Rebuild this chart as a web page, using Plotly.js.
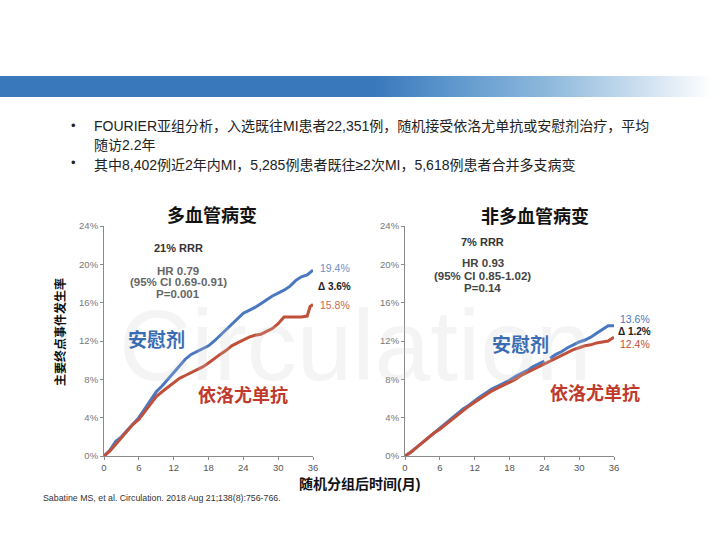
<!DOCTYPE html>
<html><head><meta charset="utf-8">
<script src="https://cdn.plot.ly/plotly-3.0.1.min.js"></script>
<style>
body{margin:0;background:#fff;}
#band{position:absolute;left:0;top:76px;width:720px;height:21px;
background:linear-gradient(to right,#3a78bc 0%,#3a78bc 52%,#5b95cc 62%,#8db8dc 76%,#c7dcee 88%,#ffffff 99%);}
#plot{position:absolute;left:0;top:0;width:720px;height:540px;}
</style></head>
<body><div id="band"></div><div id="plot"></div>
<script>
// Multivessel disease (left)
const monthsL = [0,1,2,3,4,5,6,7,8,9,10,11,12,13,14,15,16,17,18,19,20,21,22,23,24,25,26,27,28,29,30,31,32,33,34,35,36];
const placeboL = [0,0.6,1.5,2.0,2.7,3.3,4.0,4.9,5.8,6.7,7.3,8.0,8.8,9.5,10.1,10.6,10.9,11.2,11.5,12.0,12.6,13.1,13.7,14.3,14.9,15.2,15.5,15.9,16.3,16.7,17.0,17.3,17.7,18.3,18.7,18.9,19.4];
const monthsLe = [0,1,2,3,4,5,6,7,8,9,10,11,12,13,14,15,16,17,18,19,20,21,22,23,24,25,26,27,28,29,30,31,32,33,34,35,35.5,36];
const evoL = [0,0.5,1.2,1.9,2.6,3.3,3.8,4.6,5.3,6.2,6.7,7.2,7.7,8.1,8.4,8.7,9.0,9.3,9.7,10.2,10.6,11.0,11.5,11.8,12.1,12.4,12.6,12.7,13.0,13.3,13.8,14.5,14.5,14.5,14.5,14.6,15.6,15.8];
// No multivessel disease (right)
const monthsRp = [0,1,2,3,4,5,6,7,8,9,10,11,12,13,14,15,16,17,18,19,20,21,22,23,24,24.7,25,26,27,28,29,30,31,32,33,34,35,36];
const placeboR = [0,0.4,0.9,1.4,1.9,2.4,2.9,3.4,3.9,4.4,4.9,5.3,5.8,6.2,6.6,7.0,7.3,7.6,7.9,8.3,8.6,8.9,9.3,9.6,9.9,null,10.2,10.6,10.9,11.3,11.6,11.9,12.1,12.4,12.8,13.2,13.6,13.6];
const monthsRe = [0,1,2,3,4,5,6,7,8,9,10,11,12,13,14,15,16,17,18,19,20,21,22,23,24,25,26,27,28,29,30,31,32,33,34,35,35.5,36];
const evoR = [0,0.4,0.9,1.4,1.9,2.4,2.8,3.3,3.8,4.3,4.8,5.2,5.6,6.0,6.4,6.8,7.1,7.4,7.7,8.0,8.4,8.7,9.0,9.3,9.6,9.9,10.2,10.5,10.8,11.1,11.3,11.5,11.6,11.8,11.9,12.0,12.2,12.4];

const xTicks = [0,6,12,18,24,30,36];
const yTicks = [0,4,8,12,16,20,24];
const yTickText = ['0%','4%','8%','12%','16%','20%','24%'];

const BLUE = '#4a78c0', RED = '#c0503a';
const SANS = 'Liberation Sans, Arial, Noto Sans CJK SC, sans-serif';

const traces = [
 {x:monthsL,y:placeboL,xaxis:'x',yaxis:'y',mode:'lines',line:{color:BLUE,width:3},hoverinfo:'skip'},
 {x:monthsLe,y:evoL,xaxis:'x',yaxis:'y',mode:'lines',line:{color:RED,width:3},hoverinfo:'skip'},
 {x:monthsRp,y:placeboR,xaxis:'x2',yaxis:'y2',mode:'lines',connectgaps:false,line:{color:BLUE,width:3},hoverinfo:'skip'},
 {x:monthsRe,y:evoR,xaxis:'x2',yaxis:'y2',mode:'lines',line:{color:RED,width:3},hoverinfo:'skip'}
];

const W=720,H=540;
const px = v=>v/W, py = v=>1-v/H;
function ann(text,x,y,size,color,opts){
  return Object.assign({text:text,xref:'paper',yref:'paper',x:px(x),y:py(y),showarrow:false,
    xanchor:'center',yanchor:'middle',font:{family:SANS,size:size,color:color}},opts||{});
}
const axX = d=>({domain:d,range:[0,36],tickvals:xTicks,ticktext:xTicks.map(String),showgrid:false,zeroline:false,
  showline:true,linecolor:'#8a8a8a',linewidth:1,ticks:'outside',ticklen:3,tickcolor:'#8a8a8a',
  tickfont:{family:SANS,size:9.5,color:'#555'},fixedrange:true});
const axY = (d,anchor)=>({domain:d,range:[0,24],tickvals:yTicks,ticktext:yTickText,showgrid:false,zeroline:false,
  showline:true,linecolor:'#8a8a8a',linewidth:1,ticks:'outside',ticklen:3,tickcolor:'#8a8a8a',anchor:anchor,
  tickfont:{family:SANS,size:9.5,color:'#777'},fixedrange:true});

const yd=[1-456/H,1-226/H];
const layout = {
  width:W,height:H,margin:{l:0,r:0,t:0,b:0},showlegend:false,
  paper_bgcolor:'rgba(0,0,0,0)',plot_bgcolor:'rgba(0,0,0,0)',
  xaxis:Object.assign(axX([104/W,313/W]),{anchor:'y'}),
  yaxis:axY(yd,'x'),
  xaxis2:Object.assign(axX([405/W,614/W]),{anchor:'y2'}),
  yaxis2:axY(yd,'x2'),
  annotations:[
    ann('Circulation',355,345,100,'rgba(200,200,200,0.2)'),
    ann('•',73,125,13,'#222'),
    ann('FOURIER亚组分析，入选既往MI患者22,351例，随机接受依洛尤单抗或安慰剂治疗，平均',92,126,14,'#222',{xanchor:'left'}),
    ann('随访2.2年',92,145,14,'#222',{xanchor:'left'}),
    ann('•',73,163,13,'#222'),
    ann('其中8,402例近2年内MI，5,285例患者既往≥2次MI，5,618例患者合并多支病变',92,165,14,'#222',{xanchor:'left'}),
    ann('<b>多血管病变</b>',212,215,18,'#111'),
    ann('<b>非多血管病变</b>',535,216,18,'#111'),
    ann('<b>21% RRR</b>',178,248,11,'#333'),
    ann('<b>HR 0.79</b>',178,271,11.5,'#666'),
    ann('<b>(95% CI 0.69-0.91)</b>',178,282,11.5,'#666'),
    ann('<b>P=0.001</b>',178,294,11.5,'#666'),
    ann('<b>7% RRR</b>',483,242,11,'#333'),
    ann('<b>HR 0.93</b>',483,263,11.5,'#444'),
    ann('<b>(95% CI 0.85-1.02)</b>',483,276,11.5,'#444'),
    ann('<b>P=0.14</b>',483,288,11.5,'#444'),
    ann('19.4%',318,268,10.5,'#6b8fc9',{xanchor:'left'}),
    ann('<b>Δ 3.6%</b>',316,286,10,'#222',{xanchor:'left'}),
    ann('15.8%',318,305,10.5,'#c86a50',{xanchor:'left'}),
    ann('13.6%',618,319,10.5,'#4a78c0',{xanchor:'left'}),
    ann('<b>Δ 1.2%</b>',616,331,10,'#222',{xanchor:'left'}),
    ann('12.4%',618,344,10.5,'#c0503a',{xanchor:'left'}),
    ann('<b>安慰剂</b>',156,340,19,'#3b6db3'),
    ann('<b>依洛尤单抗</b>',243,395,18,'#c03a2b'),
    ann('<b>安慰剂</b>',520,345,19,'#3b6db3'),
    ann('<b>依洛尤单抗</b>',595,393,18,'#c03a2b'),
    ann('<b>主要终点事件发生率</b>',60,332,12,'#111',{textangle:-90}),
    ann('<b>随机分组后时间(月)</b>',359,484,14,'#111'),
    ann('Sabatine MS, et al. Circulation. 2018 Aug 21;138(8):756-766.',41,498,8.8,'#333',{xanchor:'left'})
  ]
};
Plotly.newPlot('plot',traces,layout,{staticPlot:true,displayModeBar:false});
</script></body></html>
